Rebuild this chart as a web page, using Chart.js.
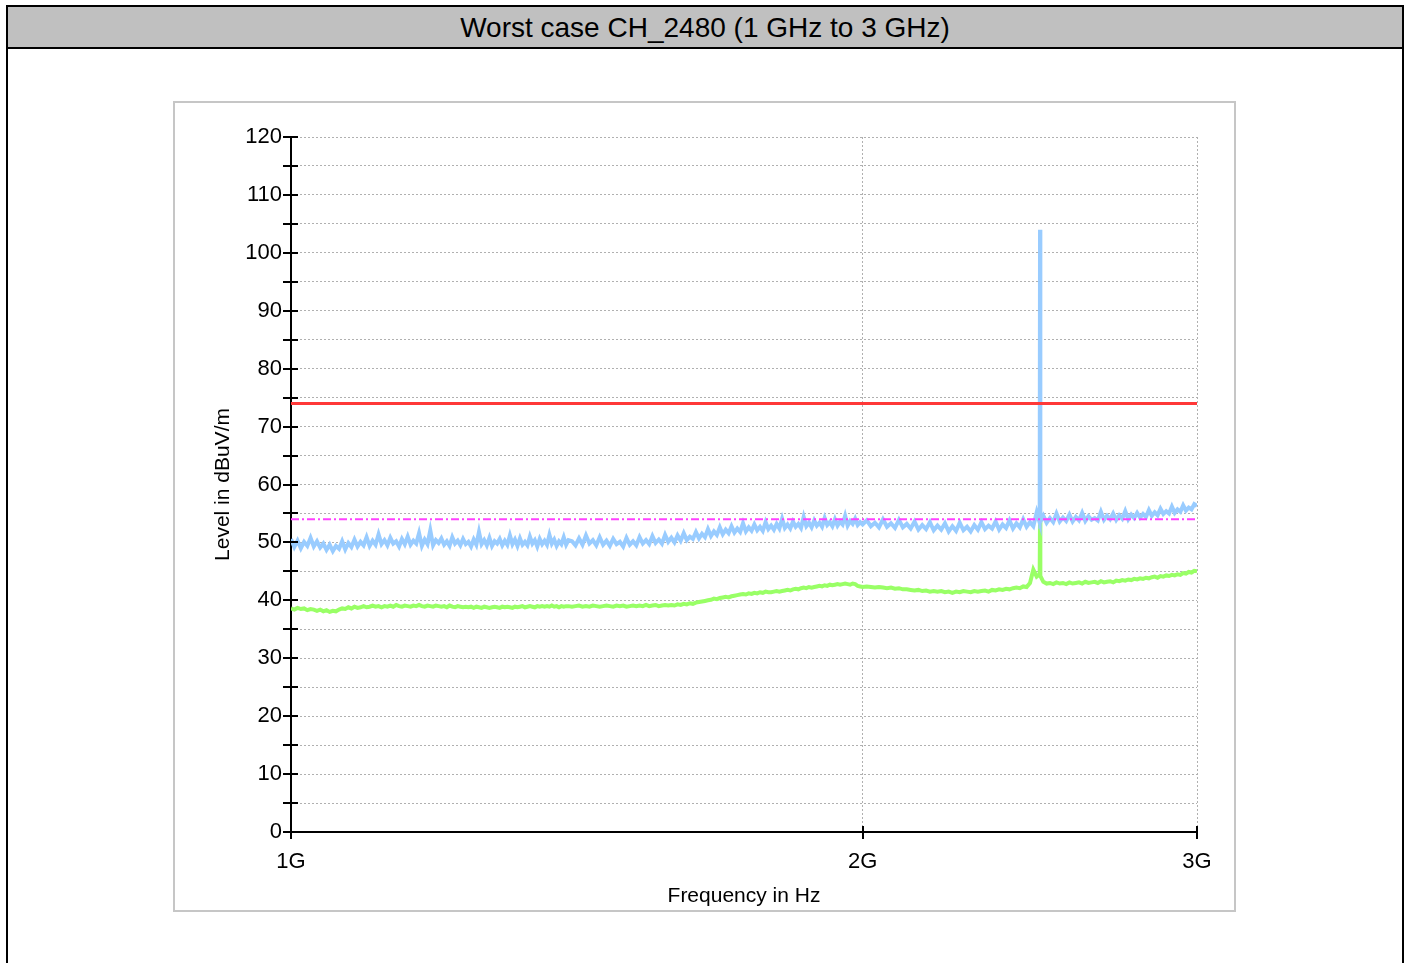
<!DOCTYPE html>
<html>
<head>
<meta charset="utf-8">
<script src="https://cdn.jsdelivr.net/npm/chart.js@4/dist/chart.umd.min.js"></script>
<style>
  html, body { margin:0; padding:0; background:#fff; width:1407px; height:963px; overflow:hidden; }
  #frame { position:absolute; left:6px; top:5px; width:1394px; height:1000px; border:2px solid #000; }
  #title { position:absolute; left:0; top:0; width:1394px; height:40px; background:#c0c0c0; border-bottom:2px solid #000;
           font-family:"Liberation Sans", Arial, sans-serif; font-size:28px; color:#000; text-align:center; line-height:42px; }
  #box { position:absolute; left:173px; top:101px; width:1059px; height:807px; border:2px solid #c6c6c6; }
  #c { position:absolute; left:175px; top:103px; }
</style>
</head>
<body>
<div id="frame"><div id="title">Worst case CH_2480 (1 GHz to 3 GHz)</div></div>
<div id="box"></div>
<canvas id="c" width="1058" height="803"></canvas>
<script>
// ---- data (frequency in MHz, level in dBuV/m) ----
const freqMHz = [
1000,1004,1008,1012,1016,1020,1024,1028,1032,1036,
1040,1044,1048,1052,1056,1060,1064,1068,1072,1076,
1080,1084,1088,1092,1096,1100,1104,1108,1112,1116,
1120,1124,1128,1132,1136,1140,1144,1148,1152,1156,
1160,1164,1168,1172,1176,1180,1184,1188,1192,1196,
1200,1204,1208,1212,1216,1220,1224,1228,1232,1236,
1240,1244,1248,1252,1256,1260,1264,1268,1272,1276,
1280,1284,1288,1292,1296,1300,1304,1308,1312,1316,
1320,1324,1328,1332,1336,1340,1344,1348,1352,1356,
1360,1364,1368,1372,1376,1380,1384,1388,1392,1396,
1400,
1406,1412,1418,1424,1430,1436,1442,1448,1454,1460,
1466,1472,1478,1484,1490,1496,1502,1508,1514,1520,
1526,1532,1538,1544,1550,1556,1562,1568,1574,1580,
1586,1592,1598,1604,1610,1616,1622,1628,1634,1640,
1646,1652,1658,1664,1670,1676,1682,1688,1694,1700,
1706,1712,1718,1724,1730,1736,1742,1748,1754,1760,
1766,1772,1778,1784,1790,1796,1802,1808,1814,1820,
1826,1832,1838,1844,1850,1856,1862,1868,1874,1880,
1886,1892,1898,1904,1910,1916,1922,1928,1934,1940,
1946,1952,1958,1964,1970,1976,1982,1988,1994,2000,
2010,2020,2030,2040,2050,2060,2070,2080,2090,2100,
2110,2120,2130,2140,2150,2160,2170,2180,2190,2200,
2210,2220,2230,2240,2250,2260,2270,2280,2290,2300,
2310,2320,2330,2340,2350,2360,2370,2380,2390,2400,
2410,2420,2430,2440,2450,2460,2470,
2479,2480,2481,
2490,2500,2510,2520,2530,2540,2550,2560,2570,2580,
2590,2600,2610,2620,2630,2640,2650,2660,2670,2680,
2690,2700,2710,2720,2730,2740,2750,2760,2770,2780,
2790,2800,2810,2820,2830,2840,2850,2860,2870,2880,
2890,2900,2910,2920,2930,2940,2950,2960,2970,2980,
2990,3000
];

// Peak trace (light blue)
const peakLevel = [
50.6,49.2,50.3,49.0,50.1,49.4,50.8,49.3,50.2,49.1,
49.8,48.7,49.6,48.5,49.4,48.9,50.2,48.8,49.9,49.2,
50.5,49.3,50.1,49.5,50.9,49.4,50.3,49.6,51.4,49.7,
50.4,49.5,50.8,49.8,50.2,49.3,50.6,49.7,51.0,49.6,
50.3,49.8,51.6,49.4,50.5,49.7,52.1,49.5,50.4,49.9,
50.7,49.6,50.2,49.4,50.9,49.8,50.3,49.5,50.6,49.7,
50.1,49.3,50.5,49.6,51.8,49.7,50.4,49.5,50.8,49.4,
50.2,49.8,50.6,49.5,50.3,49.6,51.2,49.7,50.5,49.4,
50.7,49.6,50.1,49.5,51.0,49.8,50.4,49.3,50.6,49.7,
50.3,49.6,51.3,49.8,50.5,49.4,50.2,49.7,50.9,49.6,
50.4,
50.2,49.5,50.7,49.6,51.2,49.8,50.4,49.5,50.9,49.6,
50.3,49.4,50.6,49.7,50.1,49.3,50.8,49.6,50.2,49.5,
50.9,49.8,50.4,49.7,51.1,49.9,50.5,49.8,51.3,50.1,
50.8,50.0,51.2,50.3,51.6,50.4,51.0,50.6,51.8,50.7,
51.5,50.9,52.3,51.1,51.9,51.3,52.6,51.4,52.2,51.6,
52.8,51.7,52.4,51.8,53.3,51.9,52.6,52.0,53.1,52.1,
52.7,52.0,53.5,52.3,52.9,52.2,53.2,52.4,54.1,52.5,
53.1,52.4,53.6,52.7,53.2,52.5,54.4,52.8,53.4,52.6,
53.8,52.9,53.4,52.7,54.2,53.0,53.5,52.8,54.0,52.9,
53.6,53.1,54.6,52.9,53.7,53.2,54.1,53.0,53.5,53.1,
53.8,52.8,53.4,52.6,54.0,52.7,53.3,52.5,53.9,52.6,
53.2,52.4,53.6,52.2,53.0,52.3,53.5,52.1,52.9,52.2,
53.3,51.9,52.8,52.0,53.4,52.1,52.7,51.9,53.0,52.2,
53.5,52.3,52.9,52.4,53.6,52.2,53.1,52.5,53.8,52.4,
53.3,52.6,54.0,52.7,53.5,52.8,55.2,
53.4,104.0,53.6,
54.6,53.4,54.2,53.5,55.0,53.6,54.3,53.7,54.8,53.6,
54.4,53.8,55.1,53.7,54.5,53.9,54.2,53.8,55.3,53.9,
54.6,54.0,55.0,53.9,54.7,54.1,55.4,54.0,54.8,54.2,
55.1,54.3,54.9,54.4,55.6,54.6,55.2,54.7,55.8,54.9,
55.4,55.0,56.2,55.1,55.7,55.3,56.4,55.5,56.0,55.7,
56.6,56.3
];

// Average trace (light green)
const avgLevel = [
38.6,38.4,38.7,38.5,38.6,38.3,38.5,38.4,38.2,38.4,
38.1,38.3,38.0,38.2,38.1,38.4,38.6,38.5,38.8,38.6,
38.9,38.7,38.8,39.0,38.8,38.9,39.1,38.9,39.0,38.8,
39.0,38.9,39.1,38.9,39.2,39.0,38.9,39.1,39.0,38.9,
39.1,39.0,39.2,39.0,38.9,39.1,39.0,38.9,39.1,39.0,
38.9,39.0,38.8,39.1,38.9,38.8,39.0,38.9,38.8,38.9,
38.8,38.9,38.7,38.9,38.8,38.7,38.9,38.8,38.7,38.8,
38.9,38.8,38.7,38.9,38.8,38.9,38.8,38.7,38.9,38.8,
38.9,39.0,38.8,38.9,39.0,38.9,38.8,39.0,38.9,39.0,
38.9,39.0,38.9,39.1,38.9,39.0,38.8,39.0,38.9,39.0,
39.0,
38.9,39.0,39.1,38.9,39.0,38.9,39.1,39.0,38.9,39.0,
39.1,39.0,38.9,39.1,39.0,39.1,38.9,39.0,39.1,39.0,
39.1,39.0,39.2,39.0,39.1,39.2,39.0,39.1,39.2,39.1,
39.2,39.1,39.3,39.2,39.4,39.3,39.5,39.4,39.6,39.7,
39.8,39.9,40.0,40.1,40.3,40.2,40.4,40.5,40.6,40.5,
40.7,40.8,40.9,41.0,41.1,41.0,41.2,41.1,41.3,41.2,
41.4,41.3,41.5,41.4,41.4,41.5,41.6,41.5,41.6,41.7,
41.8,41.7,41.9,42.0,41.9,42.1,42.2,42.1,42.3,42.2,
42.3,42.4,42.5,42.4,42.6,42.5,42.7,42.6,42.7,42.8,
42.7,42.8,42.9,42.8,42.7,42.9,42.8,42.5,42.4,42.3,
42.4,42.3,42.2,42.3,42.2,42.1,42.2,42.0,42.1,41.9,
41.9,41.8,41.7,41.8,41.6,41.7,41.5,41.6,41.5,41.6,
41.4,41.5,41.3,41.5,41.4,41.6,41.5,41.4,41.6,41.5,
41.6,41.7,41.5,41.8,41.7,41.9,41.8,42.0,41.9,42.1,
42.2,42.1,42.4,42.3,43.0,45.3,44.1,
44.5,54.0,44.2,
43.2,42.9,43.0,42.8,43.1,42.9,43.0,42.8,43.1,42.9,
43.0,43.1,42.9,43.2,43.0,43.1,43.2,43.0,43.3,43.1,
43.2,43.3,43.1,43.4,43.3,43.5,43.4,43.6,43.5,43.7,
43.6,43.8,43.7,43.9,43.8,44.0,44.1,43.9,44.2,44.1,
44.3,44.2,44.4,44.3,44.5,44.4,44.7,44.6,44.9,44.8,
45.1,45.0
];

const limitFreqMHz = [1000, 3000];
const peakLimit = [74, 74];
const avgLimit = [54, 54];

const xTickValues = [1e9, 2e9, 3e9];
const xTickLabels = ['1G', '2G', '3G'];
const yTickValues = [0,5,10,15,20,25,30,35,40,45,50,55,60,65,70,75,80,85,90,95,100,105,110,115,120];
const yTickLabels = ['0','','10','','20','','30','','40','','50','','60','','70','','80','','90','','100','','110','','120'];

const FONT = '"Liberation Sans", Arial, sans-serif';

const toXY = (fs, vs) => fs.map((f, i) => ({ x: f * 1e6, y: vs[i] }));

const tickPlugin = {
  id: 'axisTicks',
  afterDraw(chart) {
    const { ctx, chartArea: { left, bottom }, scales: { x, y } } = chart;
    ctx.save();
    ctx.strokeStyle = '#000';
    ctx.lineWidth = 2;
    ctx.beginPath();
    yTickValues.forEach(v => {
      const py = Math.round(y.getPixelForValue(v));
      ctx.moveTo(left - 8, py); ctx.lineTo(left + 7, py);
    });
    xTickValues.forEach(v => {
      const px = Math.round(x.getPixelForValue(v));
      ctx.moveTo(px, bottom - 6); ctx.lineTo(px, bottom + 7);
    });
    ctx.stroke();
    ctx.restore();
  }
};

new Chart(document.getElementById('c'), {
  type: 'line',
  data: {
    datasets: [
      { label: 'Limit', data: toXY(limitFreqMHz, peakLimit), borderColor: '#ff3838', borderWidth: 3 },
      { label: 'Avg limit', data: toXY(limitFreqMHz, avgLimit), borderColor: '#ff40ff', borderWidth: 2, borderDash: [8, 3, 2, 3] },
      { label: 'Peak', data: toXY(freqMHz, peakLevel), borderColor: '#99ccff', borderWidth: 4 },
      { label: 'Average', data: toXY(freqMHz, avgLevel), borderColor: '#99ff66', borderWidth: 4 }
    ]
  },
  options: {
    responsive: false,
    animation: false,
    layout: { padding: { left: 0, top: 34, right: 36, bottom: 0 } },
    plugins: { legend: { display: false }, tooltip: { enabled: false } },
    elements: { point: { radius: 0 }, line: { tension: 0, borderJoinStyle: 'miter' } },
    scales: {
      x: {
        type: 'logarithmic',
        min: 1e9, max: 3e9,
        z: 1,
        afterBuildTicks: s => { s.ticks = xTickValues.map(v => ({ value: v })); },
        afterFit: s => { s.height = 74; },
        grid: {
          color: c => (c.tick && c.tick.value === 1e9) ? 'rgba(0,0,0,0)' : '#b0b0b0',
          lineWidth: 1,
          drawTicks: false
        },
        border: { display: true, color: '#000', width: 2, dash: [2, 2] },
        ticks: {
          callback: (v, i) => xTickLabels[i],
          font: { family: FONT, size: 22 },
          color: '#000',
          padding: 17,
          maxRotation: 0,
          autoSkip: false
        },
        title: {
          display: true, text: 'Frequency in Hz', color: '#000',
          font: { family: FONT, size: 21 },
          padding: { top: 0, bottom: -3 }
        }
      },
      y: {
        min: 0, max: 120,
        afterBuildTicks: s => { s.ticks = yTickValues.map(v => ({ value: v })); },
        afterFit: s => { s.width = 116; },
        grid: { color: '#b0b0b0', lineWidth: 1, drawTicks: false },
        border: { display: true, color: '#000', width: 2, dash: [2, 2] },
        ticks: {
          callback: (v, i) => yTickLabels[i],
          font: { family: FONT, size: 22 },
          color: '#000',
          padding: 9,
          autoSkip: false
        },
        title: {
          display: true, text: 'Level in dBuV/m', color: '#000',
          font: { family: FONT, size: 21 },
          padding: { top: 36, bottom: 0 }
        }
      }
    }
  },
  plugins: [tickPlugin]
});
</script>
</body>
</html>
